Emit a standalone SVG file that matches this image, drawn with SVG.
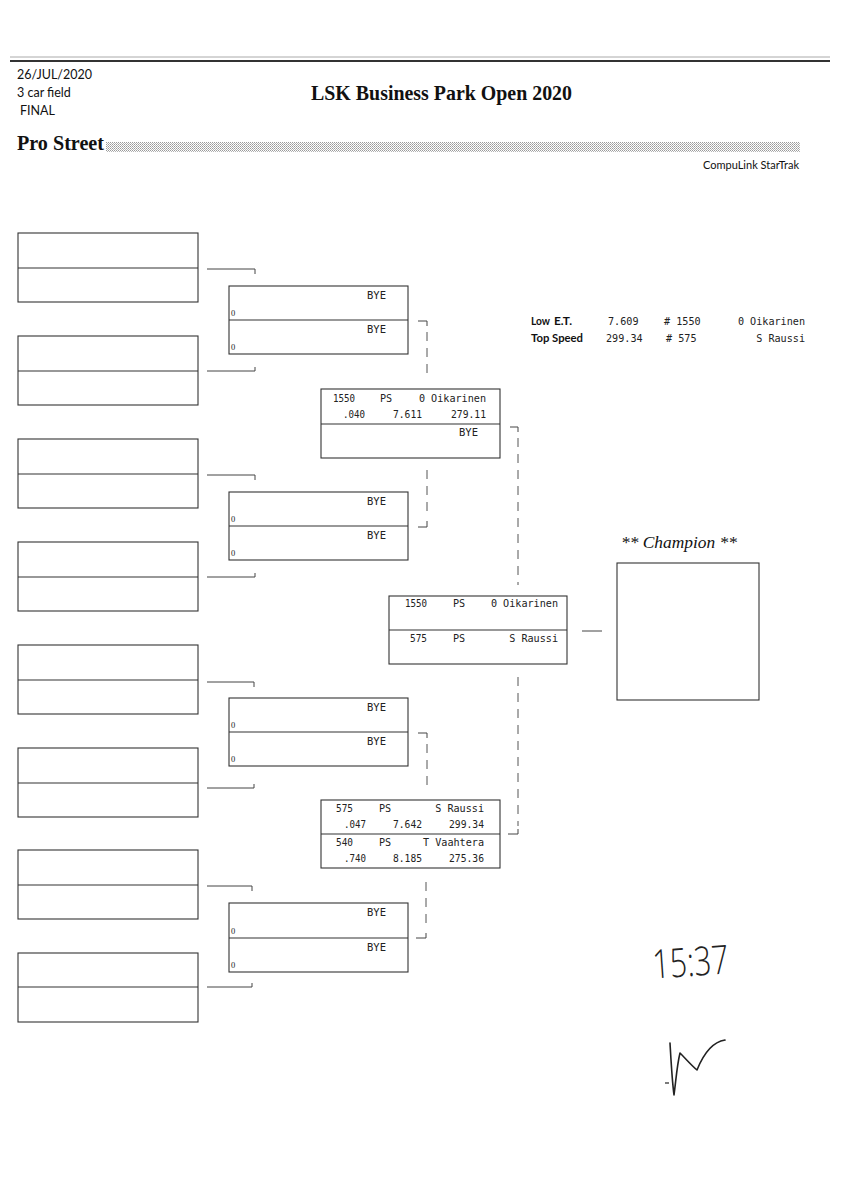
<svg xmlns="http://www.w3.org/2000/svg" width="848" height="1200" viewBox="0 0 848 1200">
<style>
.bx{fill:none;stroke:#333;stroke-width:1.1}
.dv{stroke:#333;stroke-width:1.1}
.cn{fill:none;stroke:#444;stroke-width:1}
.ds{fill:none;stroke:#555;stroke-width:1;stroke-dasharray:9 7}
.m{font-family:"DejaVu Sans Mono","Liberation Mono",monospace;font-size:11.3px;fill:#222}
.e{text-anchor:end}
.z{font-family:"Liberation Serif",serif;font-size:8.5px;fill:#222}
.h{font-family:Lato,"Open Sans",sans-serif;fill:#111}
</style>
<defs>
<pattern id="dots" width="2" height="2" patternUnits="userSpaceOnUse">
<rect x="0" y="0" width="1" height="1" fill="#9a9a9a"/>
<rect x="1" y="1" width="1" height="1" fill="#b5b5b5"/>
</pattern>
<linearGradient id="fade" x1="0" x2="1" y1="0" y2="0">
<stop offset="0" stop-color="#555"/>
<stop offset="0.7" stop-color="#888"/>
<stop offset="1" stop-color="#ddd"/>
</linearGradient>
</defs>
<rect width="848" height="1200" fill="#fff"/>

<g id="header">
<line x1="10" y1="57" x2="830" y2="57" stroke="#aaa" stroke-width="1"/>
<line x1="10" y1="61" x2="830" y2="61" stroke="#333" stroke-width="2.2"/>
<text class="h" x="17" y="79" font-size="12.5">26/JUL/2020</text>
<text class="h" x="17" y="97" font-size="12.5">3 car field</text>
<text class="h" x="20" y="115" font-size="12.5">FINAL</text>
<text x="311" y="100" font-family="Liberation Serif,serif" font-weight="bold" font-size="21" textLength="261" lengthAdjust="spacingAndGlyphs" fill="#111">LSK Business Park Open 2020</text>
<text x="17" y="150" font-family="Liberation Serif,serif" font-weight="bold" font-size="21" textLength="87" lengthAdjust="spacingAndGlyphs" fill="#111">Pro Street</text>
<rect x="106" y="142" width="694" height="10" fill="url(#dots)"/>
<text class="h" x="799" y="169" font-size="11" text-anchor="end">CompuLink StarTrak</text>
</g>

<g id="stats">
<text class="h" x="531" y="325" font-size="11" font-weight="bold" textLength="19" lengthAdjust="spacingAndGlyphs">Low</text>
<text class="h" x="554" y="325" font-size="11" font-weight="bold" textLength="18" lengthAdjust="spacingAndGlyphs">E.T.</text>
<text class="h" x="531" y="342" font-size="11" font-weight="bold" textLength="52" lengthAdjust="spacingAndGlyphs">Top Speed</text>
<text class="m" x="608" y="325" textLength="30.5" lengthAdjust="spacingAndGlyphs">7.609</text>
<text class="m" x="664" y="325" textLength="36.6" lengthAdjust="spacingAndGlyphs"># 1550</text>
<text class="m e" x="805" y="325" textLength="67.1" lengthAdjust="spacingAndGlyphs">0 Oikarinen</text>
<text class="m" x="606" y="342" textLength="36.6" lengthAdjust="spacingAndGlyphs">299.34</text>
<text class="m" x="666" y="342" textLength="30.5" lengthAdjust="spacingAndGlyphs"># 575</text>
<text class="m e" x="805" y="342" textLength="48.8" lengthAdjust="spacingAndGlyphs">S Raussi</text>
</g>

<g id="r1-1"><rect class="bx" x="18" y="233" width="180" height="69"/><line class="dv" x1="18" y1="268" x2="198" y2="268"/></g>
<g id="r1-2"><rect class="bx" x="18" y="336" width="180" height="69"/><line class="dv" x1="18" y1="371" x2="198" y2="371"/></g>
<g id="r1-3"><rect class="bx" x="18" y="439" width="180" height="69"/><line class="dv" x1="18" y1="474" x2="198" y2="474"/></g>
<g id="r1-4"><rect class="bx" x="18" y="542" width="180" height="69"/><line class="dv" x1="18" y1="577" x2="198" y2="577"/></g>
<g id="r1-5"><rect class="bx" x="18" y="645" width="180" height="69"/><line class="dv" x1="18" y1="680" x2="198" y2="680"/></g>
<g id="r1-6"><rect class="bx" x="18" y="748" width="180" height="69"/><line class="dv" x1="18" y1="783" x2="198" y2="783"/></g>
<g id="r1-7"><rect class="bx" x="18" y="850" width="180" height="69"/><line class="dv" x1="18" y1="885" x2="198" y2="885"/></g>
<g id="r1-8"><rect class="bx" x="18" y="953" width="180" height="69"/><line class="dv" x1="18" y1="987" x2="198" y2="987"/></g>

<g id="r2-1"><rect class="bx" x="229" y="286" width="179" height="68"/><line class="dv" x1="229" y1="320" x2="408" y2="320"/>
<text class="m e" x="386" y="299" textLength="19" lengthAdjust="spacingAndGlyphs">BYE</text><text class="z" x="231" y="316">0</text>
<text class="m e" x="386" y="333" textLength="19" lengthAdjust="spacingAndGlyphs">BYE</text><text class="z" x="231" y="350">0</text></g>
<g id="r2-2"><rect class="bx" x="229" y="492" width="179" height="68"/><line class="dv" x1="229" y1="526" x2="408" y2="526"/>
<text class="m e" x="386" y="505" textLength="19" lengthAdjust="spacingAndGlyphs">BYE</text><text class="z" x="231" y="522">0</text>
<text class="m e" x="386" y="539" textLength="19" lengthAdjust="spacingAndGlyphs">BYE</text><text class="z" x="231" y="556">0</text></g>
<g id="r2-3"><rect class="bx" x="229" y="698" width="179" height="68"/><line class="dv" x1="229" y1="732" x2="408" y2="732"/>
<text class="m e" x="386" y="711" textLength="19" lengthAdjust="spacingAndGlyphs">BYE</text><text class="z" x="231" y="728">0</text>
<text class="m e" x="386" y="745" textLength="19" lengthAdjust="spacingAndGlyphs">BYE</text><text class="z" x="231" y="762">0</text></g>
<g id="r2-4"><rect class="bx" x="229" y="903" width="179" height="69"/><line class="dv" x1="229" y1="938" x2="408" y2="938"/>
<text class="m e" x="386" y="916" textLength="19" lengthAdjust="spacingAndGlyphs">BYE</text><text class="z" x="231" y="934">0</text>
<text class="m e" x="386" y="951" textLength="19" lengthAdjust="spacingAndGlyphs">BYE</text><text class="z" x="231" y="968">0</text></g>

<g id="r3-1"><rect class="bx" x="321" y="389" width="179" height="69"/><line class="dv" x1="321" y1="424" x2="500" y2="424"/>
<text class="m" x="333" y="402" textLength="22" lengthAdjust="spacingAndGlyphs">1550</text>
<text class="m" x="380" y="402" textLength="12.2" lengthAdjust="spacingAndGlyphs">PS</text>
<text class="m e" x="486" y="402" textLength="67.1" lengthAdjust="spacingAndGlyphs">0 Oikarinen</text>
<text class="m e" x="365" y="418" textLength="22" lengthAdjust="spacingAndGlyphs">.040</text>
<text class="m e" x="422" y="418" textLength="29" lengthAdjust="spacingAndGlyphs">7.611</text>
<text class="m e" x="486" y="418" textLength="35" lengthAdjust="spacingAndGlyphs">279.11</text>
<text class="m e" x="478" y="436" textLength="19" lengthAdjust="spacingAndGlyphs">BYE</text></g>
<g id="r3-2"><rect class="bx" x="321" y="800" width="179" height="68"/><line class="dv" x1="321" y1="834" x2="500" y2="834"/>
<text class="m" x="336" y="812" textLength="17" lengthAdjust="spacingAndGlyphs">575</text>
<text class="m" x="379" y="812" textLength="12.2" lengthAdjust="spacingAndGlyphs">PS</text>
<text class="m e" x="484" y="812" textLength="48.8" lengthAdjust="spacingAndGlyphs">S Raussi</text>
<text class="m e" x="366" y="828" textLength="22" lengthAdjust="spacingAndGlyphs">.047</text>
<text class="m e" x="422" y="828" textLength="29" lengthAdjust="spacingAndGlyphs">7.642</text>
<text class="m e" x="484" y="828" textLength="35" lengthAdjust="spacingAndGlyphs">299.34</text>
<text class="m" x="336" y="846" textLength="17" lengthAdjust="spacingAndGlyphs">540</text>
<text class="m" x="379" y="846" textLength="12.2" lengthAdjust="spacingAndGlyphs">PS</text>
<text class="m e" x="484" y="846" textLength="61" lengthAdjust="spacingAndGlyphs">T Vaahtera</text>
<text class="m e" x="366" y="862" textLength="22" lengthAdjust="spacingAndGlyphs">.740</text>
<text class="m e" x="422" y="862" textLength="29" lengthAdjust="spacingAndGlyphs">8.185</text>
<text class="m e" x="484" y="862" textLength="35" lengthAdjust="spacingAndGlyphs">275.36</text></g>

<g id="final"><rect class="bx" x="389" y="596" width="178" height="68"/><line class="dv" x1="389" y1="630" x2="567" y2="630"/>
<text class="m e" x="427" y="607" textLength="22" lengthAdjust="spacingAndGlyphs">1550</text>
<text class="m" x="453" y="607" textLength="12.2" lengthAdjust="spacingAndGlyphs">PS</text>
<text class="m e" x="558" y="607" textLength="67.1" lengthAdjust="spacingAndGlyphs">0 Oikarinen</text>
<text class="m e" x="427" y="642" textLength="17" lengthAdjust="spacingAndGlyphs">575</text>
<text class="m" x="453" y="642" textLength="12.2" lengthAdjust="spacingAndGlyphs">PS</text>
<text class="m e" x="558" y="642" textLength="48.8" lengthAdjust="spacingAndGlyphs">S Raussi</text></g>

<g id="champion">
<text x="621" y="548" font-family="Liberation Serif,serif" font-style="italic" font-size="16.5" textLength="116" lengthAdjust="spacingAndGlyphs" fill="#111">** Champion **</text>
<rect class="bx" x="617" y="563" width="142" height="137"/>
</g>

<g id="connectors">
<path class="cn" d="M207,269 H255 V274"/>
<path class="cn" d="M207,371 H255 V367"/>
<path class="cn" d="M207,475 H255 V480"/>
<path class="cn" d="M207,577 H255 V573"/>
<path class="cn" d="M207,682 H254 V687"/>
<path class="cn" d="M207,788 H254 V784"/>
<path class="cn" d="M207,886 H252 V891"/>
<path class="cn" d="M207,987 H252 V983"/>
<path class="cn" d="M418,321 H427 V326"/><path class="ds" d="M427,332 V378"/>
<path class="ds" d="M427,470 V518"/><path class="cn" d="M427,521 V527 H418"/>
<path class="cn" d="M418,733 H427 V738"/><path class="ds" d="M427,744 V792"/>
<path class="ds" d="M426,882 V930"/><path class="cn" d="M426,933 V938 H416"/>
<path class="cn" d="M510,427 H518 V432"/><path class="ds" d="M518,438 V585"/>
<path class="ds" d="M518,677 V826"/><path class="cn" d="M518,829 V834 H508"/>
<path class="cn" d="M582,631 H602"/>
</g>

<g id="handwriting">
<text x="652" y="976" font-family="Open Sans,Liberation Sans,sans-serif" font-weight="300" font-size="40" textLength="76" lengthAdjust="spacingAndGlyphs" fill="#222" transform="rotate(-4 690 955)">15:37</text>
<path d="M670,1043 C671,1060 672,1080 674,1095 C676,1080 677,1065 680,1053 C685,1058 692,1066 697,1070 C703,1055 712,1042 725,1040" fill="none" stroke="#222" stroke-width="1.6" stroke-linecap="round" stroke-linejoin="round"/>
<path d="M665,1083 L669,1083" stroke="#222" stroke-width="1.2"/>
</g>

<line x1="0" y1="1197" x2="600" y2="1197" stroke="url(#fade)" stroke-width="2"/>
</svg>
